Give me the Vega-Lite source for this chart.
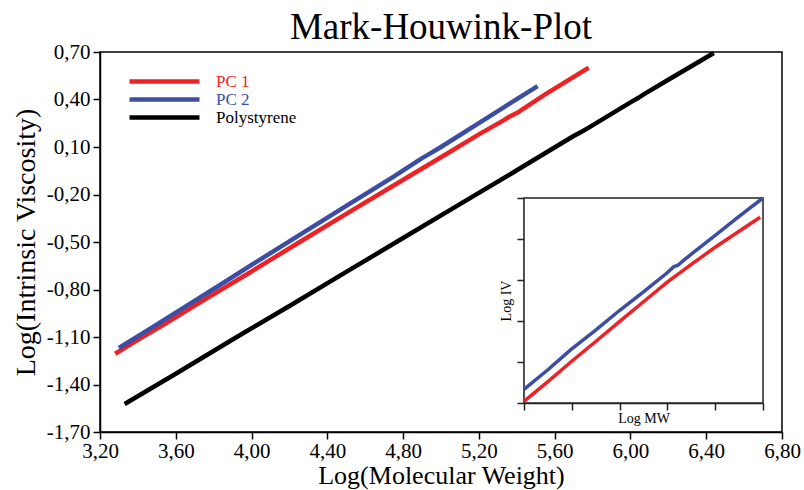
{
  "$schema": "https://vega.github.io/schema/vega-lite/v6.json",
  "width": 682,
  "height": 380,
  "autosize": "none",
  "padding": {"left": 100, "top": 52, "right": 22, "bottom": 58},
  "background": "white",
  "title": {"text": "Mark-Houwink-Plot", "font": "Liberation Serif", "fontSize": 37, "fontWeight": "normal", "color": "black", "anchor": "middle", "frame": "group", "offset": -6},
  "config": {
    "view": {"stroke": "black", "strokeWidth": 1.5},
    "axis": {"grid": false}
  },
  "datasets": {
    "main": [
      {"series": "PC 1", "logMW": 3.28, "logIV": -1.206},
      {"series": "PC 1", "logMW": 3.40, "logIV": -1.118},
      {"series": "PC 1", "logMW": 3.55, "logIV": -1.012},
      {"series": "PC 1", "logMW": 3.75, "logIV": -0.866},
      {"series": "PC 1", "logMW": 4.00, "logIV": -0.686},
      {"series": "PC 1", "logMW": 4.25, "logIV": -0.503},
      {"series": "PC 1", "logMW": 4.50, "logIV": -0.322},
      {"series": "PC 1", "logMW": 4.75, "logIV": -0.143},
      {"series": "PC 1", "logMW": 5.00, "logIV": 0.035},
      {"series": "PC 1", "logMW": 5.20, "logIV": 0.180},
      {"series": "PC 1", "logMW": 5.33, "logIV": 0.268},
      {"series": "PC 1", "logMW": 5.36, "logIV": 0.291},
      {"series": "PC 1", "logMW": 5.40, "logIV": 0.314},
      {"series": "PC 1", "logMW": 5.55, "logIV": 0.432},
      {"series": "PC 1", "logMW": 5.78, "logIV": 0.601},
      {"series": "PC 2", "logMW": 3.30, "logIV": -1.169},
      {"series": "PC 2", "logMW": 3.45, "logIV": -1.058},
      {"series": "PC 2", "logMW": 3.60, "logIV": -0.946},
      {"series": "PC 2", "logMW": 3.80, "logIV": -0.797},
      {"series": "PC 2", "logMW": 4.00, "logIV": -0.645},
      {"series": "PC 2", "logMW": 4.25, "logIV": -0.458},
      {"series": "PC 2", "logMW": 4.50, "logIV": -0.272},
      {"series": "PC 2", "logMW": 4.75, "logIV": -0.087},
      {"series": "PC 2", "logMW": 4.90, "logIV": 0.030},
      {"series": "PC 2", "logMW": 4.93, "logIV": 0.050},
      {"series": "PC 2", "logMW": 5.00, "logIV": 0.100},
      {"series": "PC 2", "logMW": 5.25, "logIV": 0.289},
      {"series": "PC 2", "logMW": 5.51, "logIV": 0.485},
      {"series": "Polystyrene", "logMW": 3.33, "logIV": -1.523},
      {"series": "Polystyrene", "logMW": 3.60, "logIV": -1.332},
      {"series": "Polystyrene", "logMW": 3.90, "logIV": -1.116},
      {"series": "Polystyrene", "logMW": 4.20, "logIV": -0.904},
      {"series": "Polystyrene", "logMW": 4.50, "logIV": -0.689},
      {"series": "Polystyrene", "logMW": 4.80, "logIV": -0.475},
      {"series": "Polystyrene", "logMW": 5.10, "logIV": -0.261},
      {"series": "Polystyrene", "logMW": 5.40, "logIV": -0.047},
      {"series": "Polystyrene", "logMW": 5.70, "logIV": 0.169},
      {"series": "Polystyrene", "logMW": 5.74, "logIV": 0.195},
      {"series": "Polystyrene", "logMW": 5.78, "logIV": 0.222},
      {"series": "Polystyrene", "logMW": 6.00, "logIV": 0.382},
      {"series": "Polystyrene", "logMW": 6.04, "logIV": 0.409},
      {"series": "Polystyrene", "logMW": 6.07, "logIV": 0.432},
      {"series": "Polystyrene", "logMW": 6.20, "logIV": 0.525},
      {"series": "Polystyrene", "logMW": 6.44, "logIV": 0.694}
    ],
    "inset": [
      {"series": "PC 1", "mw": 0.00, "iv": 0.04},
      {"series": "PC 1", "mw": 0.50, "iv": 0.52},
      {"series": "PC 1", "mw": 0.98, "iv": 1.00},
      {"series": "PC 1", "mw": 1.50, "iv": 1.50},
      {"series": "PC 1", "mw": 1.99, "iv": 1.98},
      {"series": "PC 1", "mw": 2.50, "iv": 2.47},
      {"series": "PC 1", "mw": 2.99, "iv": 2.94},
      {"series": "PC 1", "mw": 3.50, "iv": 3.38},
      {"series": "PC 1", "mw": 4.00, "iv": 3.80},
      {"series": "PC 1", "mw": 4.50, "iv": 4.19},
      {"series": "PC 1", "mw": 4.94, "iv": 4.53},
      {"series": "PC 2", "mw": 0.00, "iv": 0.33},
      {"series": "PC 2", "mw": 0.50, "iv": 0.81},
      {"series": "PC 2", "mw": 0.98, "iv": 1.30},
      {"series": "PC 2", "mw": 1.50, "iv": 1.78},
      {"series": "PC 2", "mw": 1.99, "iv": 2.25},
      {"series": "PC 2", "mw": 2.50, "iv": 2.71},
      {"series": "PC 2", "mw": 2.99, "iv": 3.17},
      {"series": "PC 2", "mw": 3.13, "iv": 3.32},
      {"series": "PC 2", "mw": 3.22, "iv": 3.36},
      {"series": "PC 2", "mw": 3.32, "iv": 3.46},
      {"series": "PC 2", "mw": 3.50, "iv": 3.63},
      {"series": "PC 2", "mw": 4.00, "iv": 4.09},
      {"series": "PC 2", "mw": 4.50, "iv": 4.55},
      {"series": "PC 2", "mw": 5.00, "iv": 5.00}
    ]
  },
  "layer": [
    {
      "data": {"name": "main"},
      "mark": {"type": "line", "strokeWidth": 4.5},
      "encoding": {
        "x": {
          "field": "logMW", "type": "quantitative",
          "scale": {"domain": [3.2, 6.8], "nice": false, "zero": false},
          "axis": {
            "values": [3.2, 3.6, 4.0, 4.4, 4.8, 5.2, 5.6, 6.0, 6.4, 6.8],
            "labelExpr": "replace(format(datum.value, '.2f'), '.', ',')",
            "labelFlush": false, "labelOverlap": false,
            "labelFont": "Liberation Serif", "labelFontSize": 21, "labelColor": "black", "labelPadding": 1,
            "tickSize": 7, "tickWidth": 1.5, "tickColor": "black", "domainColor": "black", "domainWidth": 1.5,
            "title": "Log(Molecular Weight)", "titleFont": "Liberation Serif", "titleFontSize": 26, "titleFontWeight": "normal", "titleColor": "black", "titlePadding": 1
          }
        },
        "y": {
          "field": "logIV", "type": "quantitative",
          "scale": {"domain": [-1.7, 0.7], "nice": false, "zero": false},
          "axis": {
            "values": [-1.7, -1.4, -1.1, -0.8, -0.5, -0.2, 0.1, 0.4, 0.7],
            "labelExpr": "replace(replace(format(datum.value, '.2f'), '.', ','), '\u2212', '-')",
            "labelFlush": false, "labelOverlap": false,
            "labelFont": "Liberation Serif", "labelFontSize": 21, "labelColor": "black", "labelPadding": 3,
            "tickSize": 7, "tickWidth": 1.5, "tickColor": "black", "domainColor": "black", "domainWidth": 1.5,
            "title": "Log(Intrinsic Viscosity)", "titleFont": "Liberation Serif", "titleFontSize": 28, "titleFontWeight": "normal", "titleColor": "black", "titlePadding": 6
          }
        },
        "color": {
          "field": "series", "type": "nominal",
          "scale": {"domain": ["PC 1", "PC 2", "Polystyrene"], "range": ["#ed2224", "#3b4ea3", "#000000"]},
          "legend": {
            "orient": "none", "legendX": 56, "legendY": 21, "title": null,
            "symbolType": "M-35,0H35", "symbolSize": 4, "symbolStrokeWidth": 4.5,
            "labelFont": "Liberation Serif", "labelFontSize": 17, "labelOffset": 43, "rowPadding": -1,
            "encode": {"labels": {"update": {"fill": {"scale": "color", "field": "value"}}}}
          }
        }
      }
    },
    {
      "data": {"name": "inset"},
      "layer": [
        {
          "data": {"values": [{}]},
          "mark": {"type": "rect", "fill": "white", "stroke": "#222222", "strokeWidth": 1.5},
          "encoding": {
            "x": {"datum": 0, "type": "quantitative"},
            "x2": {"datum": 5},
            "y": {"datum": 0, "type": "quantitative"},
            "y2": {"datum": 5}
          }
        },
        {
          "mark": {"type": "line", "strokeWidth": 3.5},
          "encoding": {
            "x": {"field": "mw", "type": "quantitative"},
            "y": {"field": "iv", "type": "quantitative"},
            "color": {"field": "series", "type": "nominal", "legend": null}
          }
        }
      ],
      "encoding": {
        "x": {
          "type": "quantitative",
          "scale": {"domain": [0, 5], "range": [424, 663], "nice": false, "zero": false},
          "axis": {
            "orient": "bottom", "offset": -29, "values": [0, 1, 2, 3, 4, 5], "labels": false,
            "tickSize": 7, "tickWidth": 1.5, "tickColor": "#222222", "domainColor": "#222222", "domainWidth": 1.5,
            "title": "Log MW", "titleFont": "Liberation Serif", "titleFontSize": 14, "titleFontWeight": "normal", "titleColor": "black", "titlePadding": 1
          }
        },
        "y": {
          "type": "quantitative",
          "scale": {"domain": [0, 5], "range": [351, 146], "nice": false, "zero": false},
          "axis": {
            "orient": "left", "offset": -424, "values": [0, 1, 2, 3, 4, 5], "labels": false,
            "tickSize": 7, "tickWidth": 1.5, "tickColor": "#222222", "domainColor": "#222222", "domainWidth": 1.5,
            "title": "Log IV", "titleFont": "Liberation Serif", "titleFontSize": 14, "titleFontWeight": "normal", "titleColor": "black", "titlePadding": 3
          }
        }
      }
    }
  ],
  "resolve": {"scale": {"x": "independent", "y": "independent"}, "axis": {"x": "independent", "y": "independent"}}
}
